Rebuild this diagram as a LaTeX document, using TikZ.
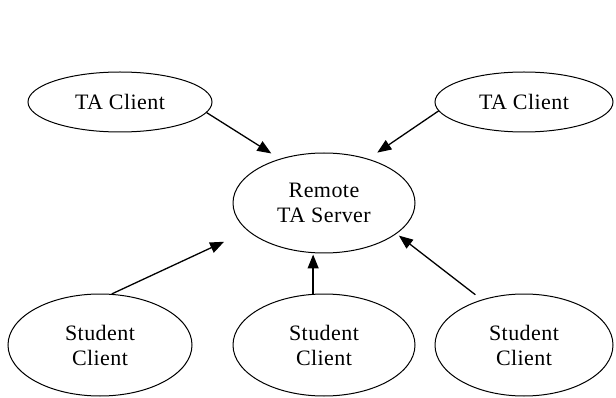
\documentclass[tikz,border=0pt]{standalone}
\usepackage{fontspec}
\setmainfont[LetterSpace=2]{Liberation Serif}
\usetikzlibrary{shapes.geometric,arrows.meta}
\begin{document}
\begin{tikzpicture}[x=1pt,y=-1pt,
  oval/.style={ellipse,draw=black,line width=1pt,inner sep=0pt,align=center,
    font=\fontsize{22}{25}\selectfont},
  arr/.style={line width=1.3pt,-{Triangle[length=14pt,width=11pt]}}]
\useasboundingbox[fill=white] (0,0) rectangle (616,398);
\node[oval,minimum width=184pt,minimum height=60pt] (tal) at (120,102) {TA Client};
\node[oval,minimum width=178pt,minimum height=60pt] (tar) at (524,102) {TA Client};
\node[oval,minimum width=182pt,minimum height=100pt] (srv) at (324,203) {Remote\\TA Server};
\node[oval,minimum width=184pt,minimum height=102pt] (sl) at (100,345) {Student\\Client};
\node[oval,minimum width=182pt,minimum height=102pt] (sm) at (324,345) {Student\\Client};
\node[oval,minimum width=178pt,minimum height=102pt] (sr) at (524,345) {Student\\Client};
\draw[arr,shorten >=10pt] (tal.-7) -- (srv.135);
\draw[arr,shorten >=11pt] (tar.186) -- (srv.45);
\draw[arr,shorten >=26pt] (sl.77) -- (srv.200);
\draw[arr,shorten >=1pt] (sm.102) -- (sm.102 |- srv.south);
\draw[arr,shorten <=8pt,shorten >=3pt] (sr.133) -- (srv.-23);
\end{tikzpicture}
\end{document}
